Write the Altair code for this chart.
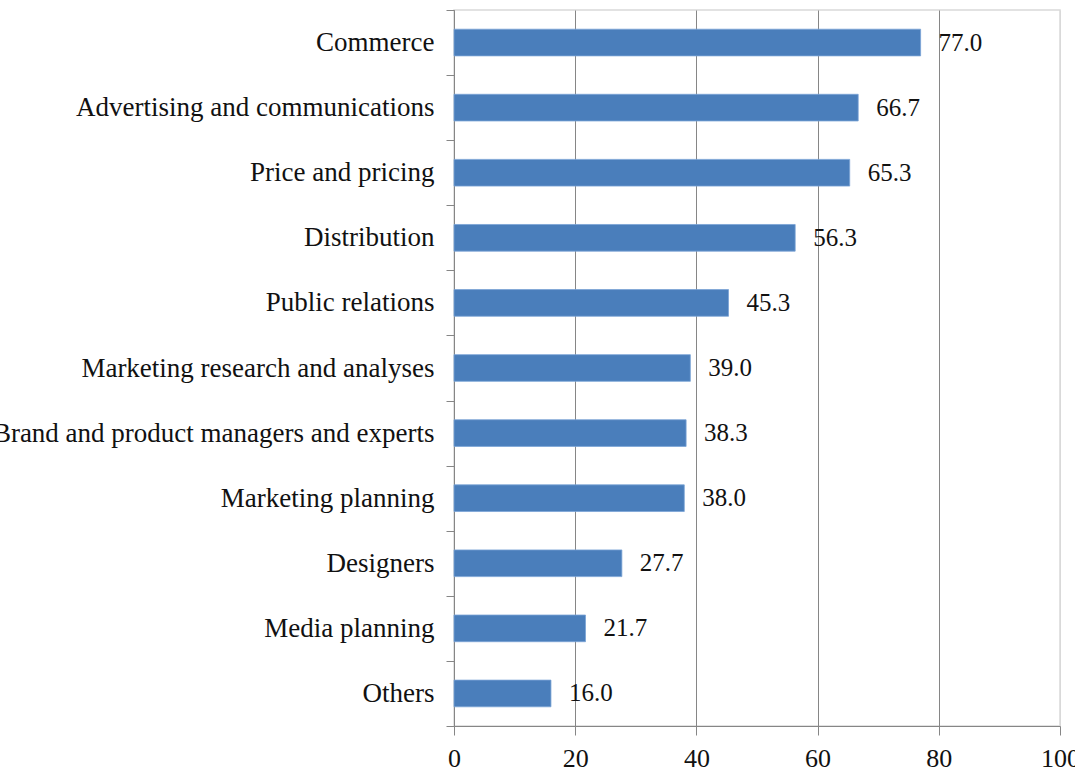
import altair as alt
import pandas as pd

# Share of respondents by marketing area (%)
categories = [
    "Commerce",
    "Advertising and communications",
    "Price and pricing",
    "Distribution",
    "Public relations",
    "Marketing research and analyses",
    "Brand and product managers and experts",
    "Marketing planning",
    "Designers",
    "Media planning",
    "Others",
]
values = [77.0, 66.7, 65.3, 56.3, 45.3, 39.0, 38.3, 38.0, 27.7, 21.7, 16.0]
x_ticks = [0, 20, 40, 60, 80, 100]

df = pd.DataFrame({"area": categories, "share": values})

FONT = "Liberation Serif"
AXIS_GRAY = "#868686"
BAR_BLUE = "#4A7EBB"

y_enc = alt.Y(
    "area:N",
    sort=categories,
    title=None,
    scale=alt.Scale(paddingInner=0, paddingOuter=0),
    axis=alt.Axis(
        tickBand="extent",
        domainColor=AXIS_GRAY,
        tickColor=AXIS_GRAY,
        tickSize=8,
        labelPadding=12,
        labelFont=FONT,
        labelFontSize=27,
        labelColor="#111111",
        labelLimit=1000,
        grid=False,
    ),
)

x_enc = alt.X(
    "share:Q",
    title=None,
    scale=alt.Scale(domain=[0, 100], nice=False),
    axis=alt.Axis(
        values=x_ticks,
        domainColor=AXIS_GRAY,
        tickColor=AXIS_GRAY,
        tickSize=9,
        labelPadding=10,
        labelFont=FONT,
        labelFontSize=26,
        labelColor="#111111",
        labelFlush=False,
        grid=True,
        gridColor={
            "condition": {"test": "datum.value >= 100", "value": "#d9d9d9"},
            "value": AXIS_GRAY,
        },
        gridWidth=1,
    ),
)

bars = alt.Chart(df).mark_bar(
    color=BAR_BLUE,
    stroke="#7aa3d6",
    strokeWidth=0.8,
    height={"band": 0.41},
).encode(x=x_enc, y=y_enc)

labels = alt.Chart(df).mark_text(
    align="left",
    baseline="middle",
    dx=18,
    font=FONT,
    fontSize=25,
    color="#111111",
).encode(
    x=alt.X("share:Q"),
    y=alt.Y("area:N", sort=categories),
    text=alt.Text("share:Q", format=".1f"),
)

chart = (
    alt.layer(bars, labels)
    .properties(
        width=606,
        height=716,
        autosize=alt.AutoSizeParams(type="none"),
        padding={"left": 454, "top": 10, "right": 15, "bottom": 45},
        background="white",
    )
    .configure_view(stroke="#d9d9d9", strokeWidth=1.5)
)

chart.save("out.html", embed_options={"renderer": "svg", "actions": False})
